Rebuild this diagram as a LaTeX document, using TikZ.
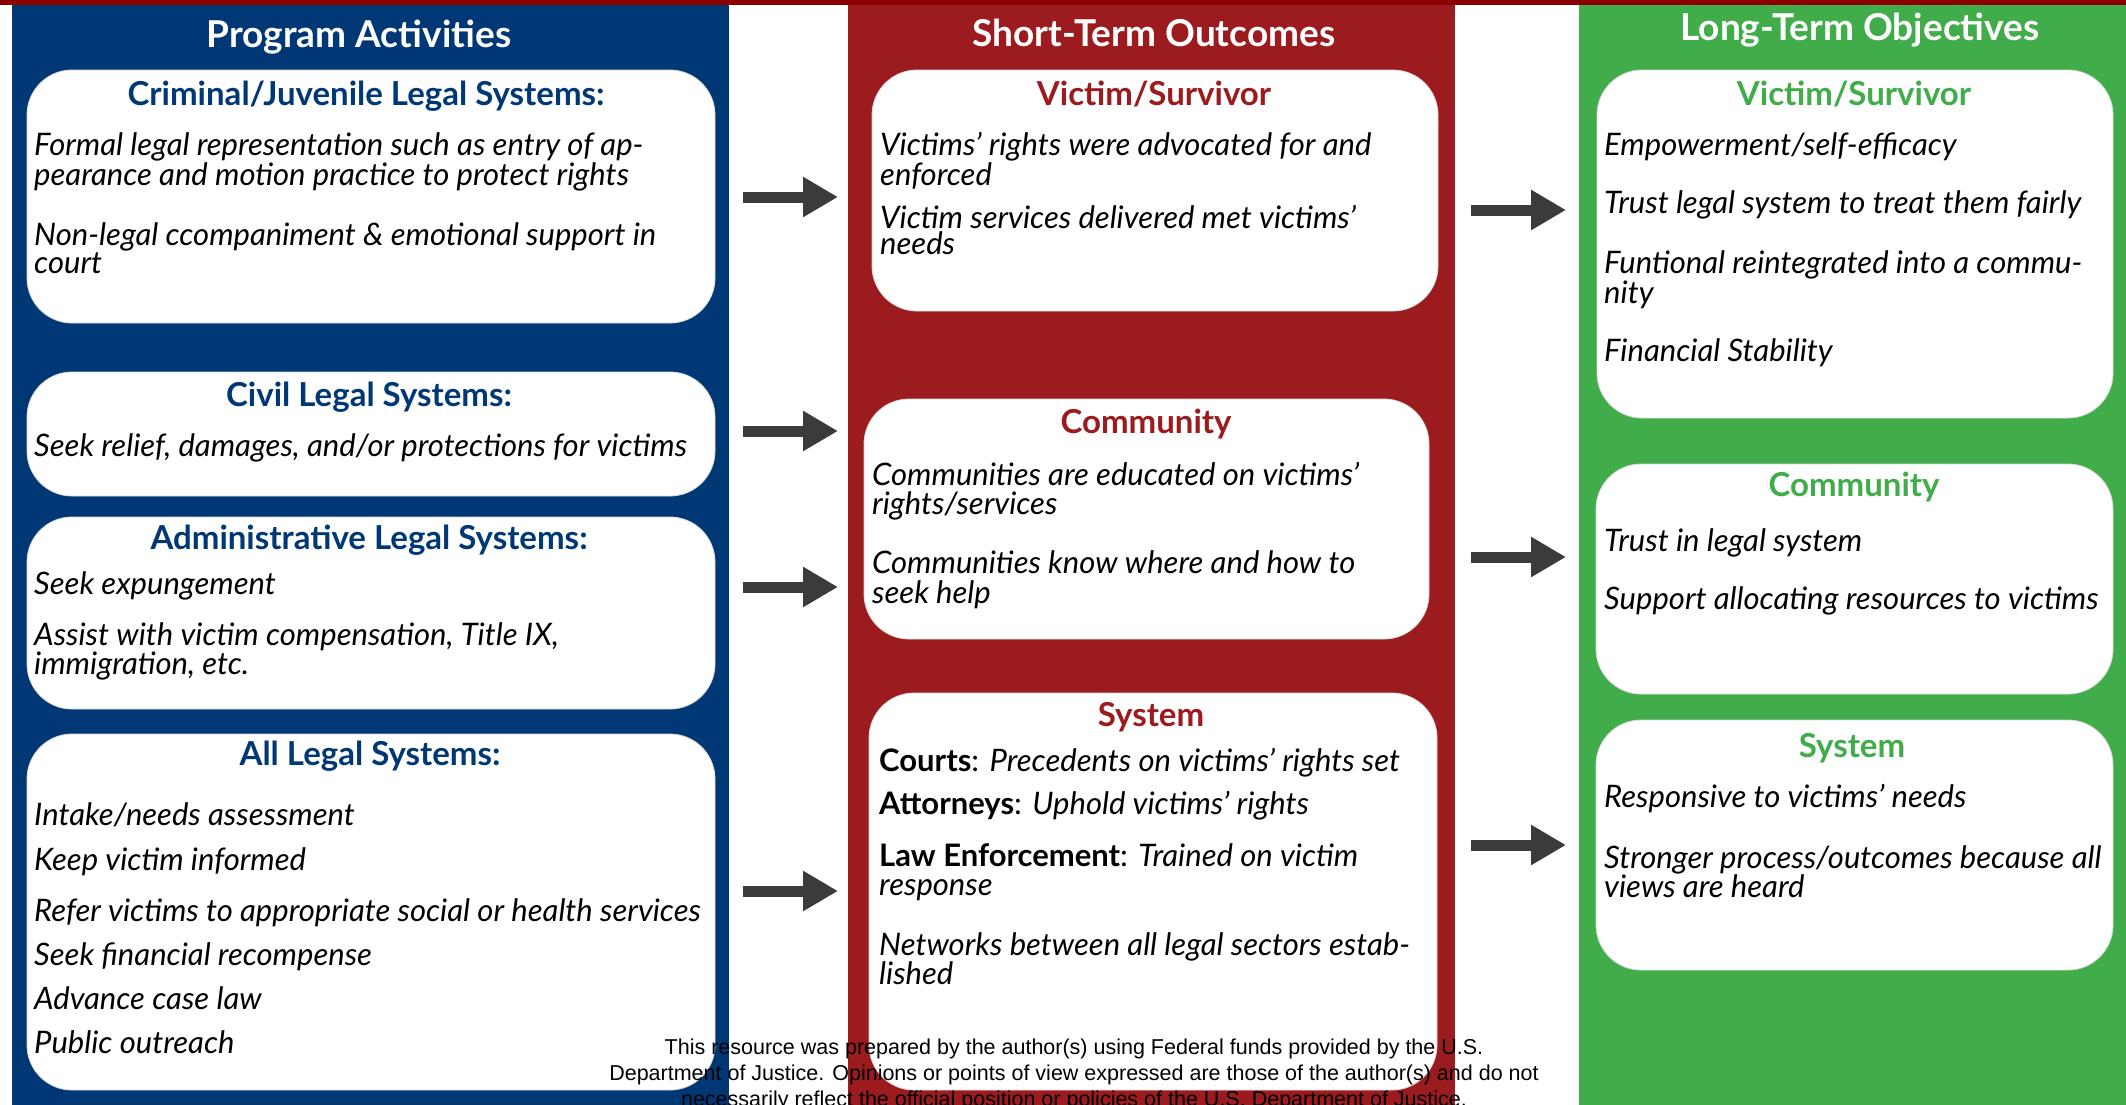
\documentclass[tikz,border=0pt]{standalone}
\usepackage{fontspec}
\setmainfont{Lato}
\newfontfamily\notefont{Liberation Sans}
\usetikzlibrary{arrows.meta}
\definecolor{navy}{HTML}{003876}
\definecolor{wine}{HTML}{9B1B1F}
\definecolor{leaf}{HTML}{40AD4A}
\definecolor{topband}{HTML}{8B0000}
\definecolor{arrowgray}{HTML}{3B3B3B}
\begin{document}
\begin{tikzpicture}[x=1pt,y=-1pt,
  panel/.style={anchor=north west, inner sep=0pt, outer sep=0pt},
  card/.style={anchor=north west, fill=white, draw=black!15, line width=0.8pt, rounded corners=45pt, inner sep=0pt, outer sep=0pt},
  head/.style={text=white, font=\fontsize{37}{37}\selectfont\bfseries, anchor=mid},
  cardtitle/.style={font=\fontsize{33}{33}\selectfont\bfseries, anchor=mid},
  item/.style={anchor=mid west, inner sep=0pt, font=\fontsize{31}{31}\selectfont\itshape},
  flow/.style={draw=arrowgray, line width=11pt, -{Triangle[length=35pt, width=38pt]}},
  note/.style={anchor=mid, inner sep=0pt, font=\notefont\fontsize{21.5}{21.5}\selectfont}]
\useasboundingbox (0,0) rectangle (2126,1104);
\fill[white] (0,0) rectangle (2126,1104);

% column panels
\node[panel, fill=navy, minimum width=717pt, minimum height=1104pt] (pa) at (12,4) {};
\node[panel, fill=wine, minimum width=607pt, minimum height=1104pt] (st) at (848,4) {};
\node[panel, fill=leaf, minimum width=547pt, minimum height=1104pt] (lt) at (1579,4) {};
\fill[topband] (0,0) rectangle (2126,5);

\node[head] (paT) at (359,45) {Program Activities};
\node[head] (stT) at (1154,44) {Short-Term Outcomes};
\node[head] (ltT) at (1860,38) {Long-Term Objectives};

% program activities
\node[card, minimum width=688pt, minimum height=253pt] (b1) at (27,70) {};
\node[card, minimum width=688pt, minimum height=124pt] (b2) at (27,372) {};
\node[card, minimum width=688pt, minimum height=192pt] (b3) at (27,517) {};
\node[card, minimum width=688pt, minimum height=356pt] (b4) at (27,734) {};

\node[cardtitle, text=navy] (b1t) at (366,103) {Criminal/Juvenile Legal Systems:};
\node[item] (b1a) at (34,153) {Formal legal representation such as entry of ap-};
\node[item] (b1b) at (34,183) {pearance and motion practice to protect rights};
\node[item] (b1c) at (34,243) {Non-legal ccompaniment \& emotional support in};
\node[item] (b1d) at (34,271) {court};

\node[cardtitle, text=navy] (b2t) at (369,404) {Civil Legal Systems:};
\node[item] (b2a) at (34,454) {Seek relief, damages, and/or protections for victims};

\node[cardtitle, text=navy] (b3t) at (369,547) {Administrative Legal Systems:};
\node[item] (b3a) at (34,592) {Seek expungement};
\node[item] (b3b) at (34,643) {Assist with victim compensation, Title IX,};
\node[item] (b3c) at (34,672) {immigration, etc.};

\node[cardtitle, text=navy] (b4t) at (370,763) {All Legal Systems:};
\node[item] (b4a) at (34,823) {Intake/needs assessment};
\node[item] (b4b) at (34,868) {Keep victim informed};
\node[item] (b4c) at (34,919) {Refer victims to appropriate social or health services};
\node[item] (b4d) at (34,963) {Seek financial recompense};
\node[item] (b4e) at (34,1007) {Advance case law};
\node[item] (b4f) at (34,1051) {Public outreach};

% short-term outcomes
\node[card, minimum width=566pt, minimum height=241pt] (r1) at (872,70) {};
\node[card, minimum width=565pt, minimum height=240pt] (r2) at (864,399) {};
\node[card, minimum width=568pt, minimum height=397pt] (r3) at (869,693) {};

\node[cardtitle, text=wine] (r1t) at (1154,103) {Victim/Survivor};
\node[item] (r1a) at (880,153) {Victims’ rights were advocated for and};
\node[item] (r1b) at (880,183) {enforced};
\node[item] (r1c) at (880,226) {Victim services delivered met victims’};
\node[item] (r1d) at (880,252) {needs};

\node[cardtitle, text=wine] (r2t) at (1146,431) {Community};
\node[item] (r2a) at (872,483) {Communities are educated on victims’};
\node[item] (r2b) at (872,512) {rights/services};
\node[item] (r2c) at (872,571) {Communities know where and how to};
\node[item] (r2d) at (872,601) {seek help};

\node[cardtitle, text=wine] (r3t) at (1151,724) {System};
\node[item] (r3a) at (879,769) {\upshape\bfseries Courts\mdseries: \itshape Precedents on victims’ rights set};
\node[item] (r3b) at (879,812) {\upshape\bfseries Attorneys\mdseries: \itshape Uphold victims’ rights};
\node[item] (r3c) at (879,864) {\upshape\bfseries Law Enforcement\mdseries: \itshape Trained on victim};
\node[item] (r3d) at (879,893) {response};
\node[item] (r3e) at (879,953) {Networks between all legal sectors estab-};
\node[item] (r3f) at (879,982) {lished};

% long-term objectives
\node[card, minimum width=516pt, minimum height=348pt] (g1) at (1597,70) {};
\node[card, minimum width=517pt, minimum height=230pt] (g2) at (1596,464) {};
\node[card, minimum width=517pt, minimum height=250pt] (g3) at (1596,720) {};

\node[cardtitle, text=leaf] (g1t) at (1854,103) {Victim/Survivor};
\node[item] (g1a) at (1604,153) {Empowerment/self-efficacy};
\node[item] (g1b) at (1604,211) {Trust legal system to treat them fairly};
\node[item] (g1c) at (1604,271) {Funtional reintegrated into a commu-};
\node[item] (g1d) at (1604,301) {nity};
\node[item] (g1e) at (1604,359) {Financial Stability};

\node[cardtitle, text=leaf] (g2t) at (1854,494) {Community};
\node[item] (g2a) at (1604,549) {Trust in legal system};
\node[item] (g2b) at (1604,607) {Support allocating resources to victims};

\node[cardtitle, text=leaf] (g3t) at (1852,755) {System};
\node[item] (g3a) at (1604,805) {Responsive to victims’ needs};
\node[item] (g3b) at (1604,866) {Stronger process/outcomes because all};
\node[item] (g3c) at (1604,895) {views are heard};

% arrows between columns
\coordinate (a1s) at (743,197);  \coordinate (a1e) at (838,197);
\coordinate (a2s) at (743,431);  \coordinate (a2e) at (838,431);
\coordinate (a3s) at (743,587);  \coordinate (a3e) at (838,587);
\coordinate (a4s) at (743,891);  \coordinate (a4e) at (838,891);
\coordinate (a5s) at (1471,210); \coordinate (a5e) at (1566,210);
\coordinate (a6s) at (1471,557); \coordinate (a6e) at (1566,557);
\coordinate (a7s) at (1471,845); \coordinate (a7e) at (1566,845);
\foreach \k in {1,...,7} \draw[flow] (a\k s) -- (a\k e);

% funding statement
\node[note] (n1) at (1074,1052) {This resource was prepared by the author(s) using Federal funds provided by the U.S.};
\node[note] (n2) at (1074,1078) {Department of Justice. Opinions or points of view expressed are those of the author(s) and do not};
\node[note] (n3) at (1074,1104) {necessarily reflect the official position or policies of the U.S. Department of Justice.};
\end{tikzpicture}
\end{document}
